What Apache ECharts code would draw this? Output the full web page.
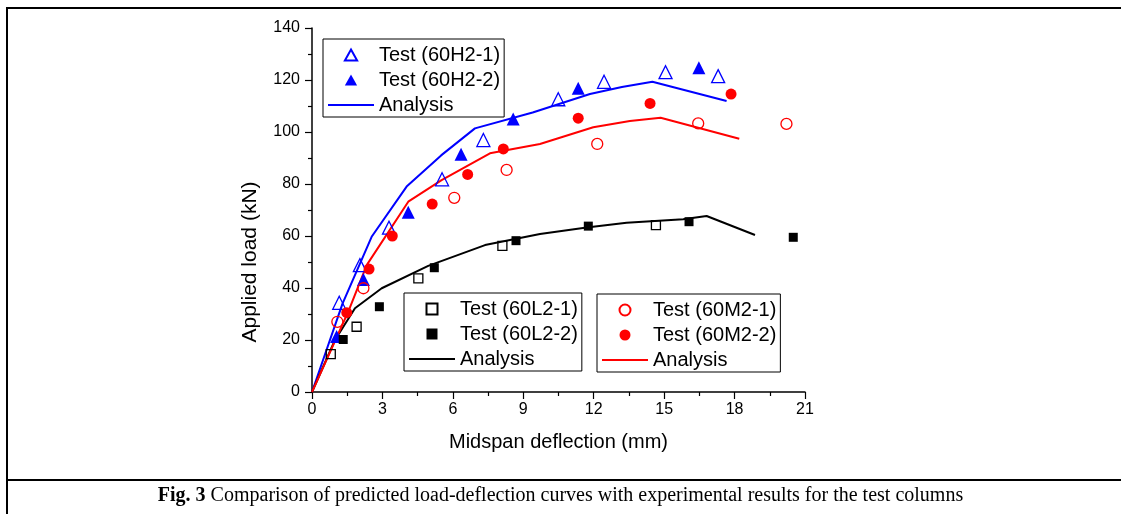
<!DOCTYPE html>
<html>
<head>
    <meta charset="UTF-8">
    <title>Fig. 3</title>
    <script src="https://cdn.jsdelivr.net/npm/echarts@6/dist/echarts.min.js"></script>
    <style>
        html, body { margin: 0; padding: 0; background: #fff; }
        #main { width: 1121px; height: 514px; }
    </style>
</head>
<body>
<div id="main"></div>
<script type="text/javascript">
    // 读图得到的数据 (deflection mm, load kN)
    var h21 = [[1.16, 34.3], [2.04, 48.8], [3.28, 63.2], [5.54, 81.8], [7.3, 96.9], [10.49, 112.6], [12.44, 119.3], [15.06, 123], [17.3, 121.5]];
    var h22 = [[1.05, 21.3], [2.19, 43.3], [4.1, 69.1], [6.35, 91.4], [8.57, 105], [11.34, 116.8], [16.48, 124.7]];
    var h2Analysis = [[0, 0], [1.3, 34], [2.54, 59.7], [4.03, 79], [5.5, 91], [6.94, 101.4], [9.4, 107.5], [11.84, 114.6], [13.2, 117.3], [14.5, 119.3], [17.66, 111.9]];

    var m21 = [[1.08, 27], [2.19, 39.9], [6.06, 74.7], [8.29, 85.4], [12.15, 95.4], [16.45, 103.3], [20.21, 103.1]];
    var m22 = [[1.48, 30.5], [2.43, 47.3], [3.42, 60], [5.12, 72.3], [6.63, 83.7], [8.15, 93.5], [11.34, 105.3], [14.4, 111], [17.85, 114.6]];
    var m2Analysis = [[0, 0], [1.55, 31], [2.33, 48.8], [4.1, 73.2], [5.52, 81.5], [7.58, 91.8], [9.71, 95.4], [11.98, 101.8], [13.54, 104.2], [14.85, 105.5], [18.2, 97.4]];

    var l21 = [[0.8, 14.6], [1.9, 25.1], [4.53, 43.7], [8.11, 56.2], [14.65, 64.2]];
    var l22 = [[1.33, 20.2], [2.87, 32.8], [5.21, 47.8], [8.69, 58.2], [11.77, 63.8], [16.06, 65.5], [20.5, 59.5]];
    var l2Analysis = [[0, 0], [0.98, 20], [1.83, 32.2], [2.97, 39.9], [4.95, 48.5], [7.37, 56.5], [9.71, 60.8], [11.7, 63.3], [13.4, 65.1], [15.81, 66.4], [16.81, 67.7], [18.87, 60.4]];

    var xTicks = { min: 0, max: 21, interval: 3 };
    var yTicks = { min: 0, max: 140, interval: 20 };

    var xName = 'Midspan deflection (mm)';
    var yName = 'Applied load (kN)';
    var caption = 'Comparison of predicted load-deflection curves with experimental results for the test columns';

    var BLUE = '#0000ff', RED = '#ff0000', BLACK = '#000000';
    var sans = 'Liberation Sans, Arial, sans-serif';
    var serif = 'Liberation Serif, Times New Roman, serif';
    // 图例图标 (path 才会保持比例)
    var LINE_ICON = 'path://M0,0H46V2H0Z';
    var TRI_ICON = 'path://M5,0L10,9L0,9Z';
    var SQ_ICON = 'path://M0,0H10V10H0Z';

    var myChart = echarts.init(document.getElementById('main'));

    function openSym(name, symbol, size, color, data) {
        return {
            name: name, type: 'scatter', symbol: symbol, symbolSize: size, data: data,
            itemStyle: { color: 'transparent', borderColor: color, borderWidth: 1.3, opacity: 1 },
            z: 3
        };
    }
    function fillSym(name, symbol, size, color, data) {
        return {
            name: name, type: 'scatter', symbol: symbol, symbolSize: size, data: data,
            itemStyle: { color: color, opacity: 1 },
            z: 3
        };
    }
    function analysis(name, color, data) {
        return {
            name: name, type: 'line', symbol: 'none', data: data,
            lineStyle: { color: color, width: 2 }, itemStyle: { color: color },
            z: 2
        };
    }

    // 每个图例框: [名字, 图标]
    function legendBox(left, top, items) {
        return {
            left: left, top: top, orient: 'vertical', align: 'left',
            data: items.map(function (it) { return { name: it[0], icon: it[1] }; }),
            itemWidth: 46, itemHeight: 11, itemGap: 5,
            symbolKeepAspect: true,
            padding: [6, 4, 2, 5],
            borderColor: '#000', borderWidth: 1, backgroundColor: '#fff',
            selectedMode: false,
            textStyle: { fontFamily: sans, fontSize: 20, color: '#000' },
            formatter: function (n) { return n.indexOf('Analysis') === 0 ? 'Analysis' : n; }
        };
    }

    var axisCommon = {
        type: 'value',
        axisLine: { show: true, lineStyle: { color: '#000', width: 1.5 } },
        axisTick: { show: true, inside: false, length: 7, lineStyle: { color: '#000', width: 1.2 } },
        minorTick: { show: true, splitNumber: 2, length: 4, lineStyle: { color: '#000', width: 1.2 } },
        splitLine: { show: false },
        axisLabel: { color: '#000', fontFamily: sans, fontSize: 16 },
        nameLocation: 'middle',
        nameTextStyle: { color: '#000', fontFamily: sans, fontSize: 20 }
    };

    var option = {
        animation: false,
        backgroundColor: '#fff',
        grid: { left: 312, top: 28, width: 493, height: 364 },
        xAxis: Object.assign({}, axisCommon, {
            min: xTicks.min, max: xTicks.max, interval: xTicks.interval,
            name: xName, nameGap: 40,
            axisLabel: Object.assign({}, axisCommon.axisLabel, { margin: 10 })
        }),
        yAxis: Object.assign({}, axisCommon, {
            min: yTicks.min, max: yTicks.max, interval: yTicks.interval,
            axisLabel: Object.assign({}, axisCommon.axisLabel, { margin: 12 })
        }),
        legend: [
            legendBox(323, 39, [['Test (60H2-1)', TRI_ICON], ['Test (60H2-2)', TRI_ICON], ['Analysis H2', LINE_ICON]]),
            legendBox(404, 293, [['Test (60L2-1)', SQ_ICON], ['Test (60L2-2)', SQ_ICON], ['Analysis L2', LINE_ICON]]),
            legendBox(597, 294, [['Test (60M2-1)', 'circle'], ['Test (60M2-2)', 'circle'], ['Analysis M2', LINE_ICON]])
        ],
        series: [
            openSym('Test (60H2-1)', 'triangle', 13, BLUE, h21),
            fillSym('Test (60H2-2)', 'triangle', 13, BLUE, h22),
            analysis('Analysis H2', BLUE, h2Analysis),
            openSym('Test (60L2-1)', 'rect', 9, BLACK, l21),
            fillSym('Test (60L2-2)', 'rect', 9, BLACK, l22),
            analysis('Analysis L2', BLACK, l2Analysis),
            openSym('Test (60M2-1)', 'circle', 11, RED, m21),
            fillSym('Test (60M2-2)', 'circle', 11, RED, m22),
            analysis('Analysis M2', RED, m2Analysis)
        ],
        graphic: [
            // 外框
            { type: 'line', shape: { x1: 7, y1: 8, x2: 1121, y2: 8 }, style: { stroke: '#000', lineWidth: 2 } },
            { type: 'line', shape: { x1: 7, y1: 7, x2: 7, y2: 514 }, style: { stroke: '#000', lineWidth: 2 } },
            { type: 'line', shape: { x1: 6, y1: 480, x2: 1121, y2: 480 }, style: { stroke: '#000', lineWidth: 2 } },
            // y轴标题, 比轴中心略低
            {
                type: 'text', x: 250, y: 262, rotation: Math.PI / 2,
                style: { text: yName, fontFamily: sans, fontSize: 21, fill: '#000', align: 'center', verticalAlign: 'middle' }
            },
            {
                type: 'text', left: 'center', top: 486,
                style: {
                    text: '{b|Fig. 3} ' + caption,
                    rich: { b: { fontFamily: serif, fontSize: 20, fontWeight: 'bold', fill: '#000' } },
                    fontFamily: serif, fontSize: 20, fill: '#000'
                }
            }
        ]
    };

    myChart.setOption(option);
</script>
</body>
</html>
